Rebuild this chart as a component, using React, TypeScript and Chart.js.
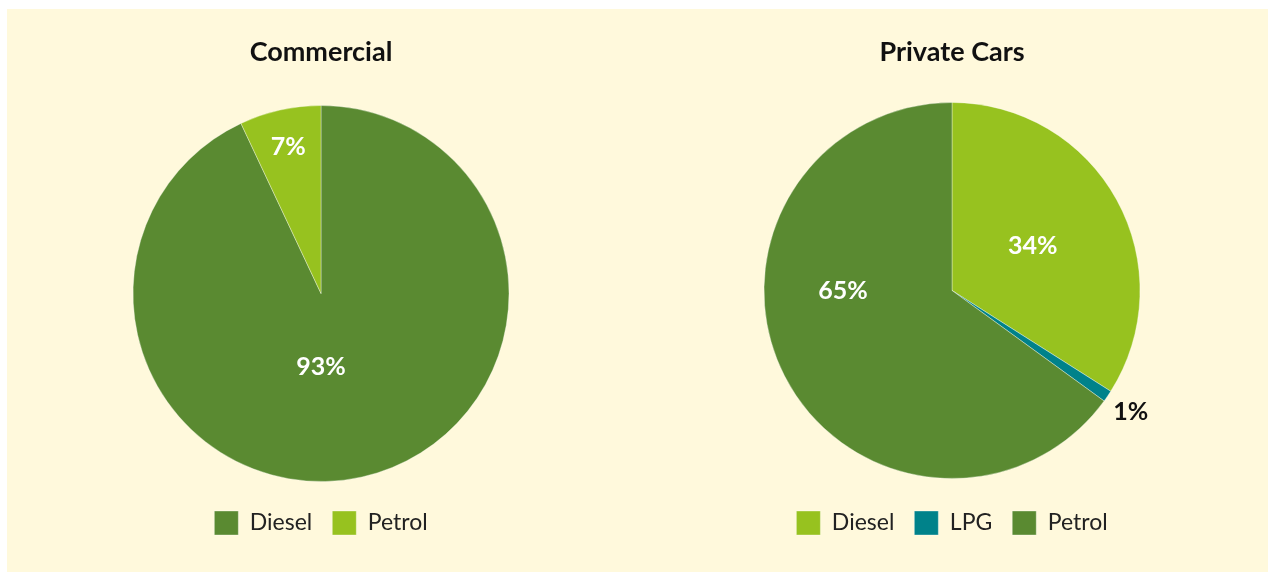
import React, { useEffect, useRef } from "react";
import { Chart, registerables } from "chart.js";

Chart.register(...registerables);

// ---- Data ----
const commercialLabels = ["Diesel", "Petrol"];
const commercialValues = [93, 7];

const privateLabels = ["Diesel", "LPG", "Petrol"];
const privateValues = [34, 1, 65];

// ---- Styles ----
const DARK = "#5a8a31";
const LIGHT = "#97c21f";
const TEAL = "#00828a";
const BG = "#fff9dc";
const FONT = "Lato, 'Open Sans', sans-serif";

const commercialColors = [DARK, LIGHT];
const privateColors = [LIGHT, TEAL, DARK];

const pctPlugin = {
  id: "pctLabels",
  afterDatasetsDraw(chart: any, _args: any, opts: any) {
    const meta = chart.getDatasetMeta(0);
    const values: number[] = chart.data.datasets[0].data;
    const total = values.reduce((a, b) => a + b, 0);
    const ctx = chart.ctx;
    ctx.save();
    ctx.font = `bold ${opts.size || 23}px ${FONT}`;
    ctx.textAlign = "center";
    ctx.textBaseline = "middle";
    meta.data.forEach((arc: any, i: number) => {
      const p = arc.getProps(["x", "y", "startAngle", "endAngle", "outerRadius"], true);
      let mid = (p.startAngle + p.endAngle) / 2;
      if (values[i] / total > 0.5) mid = Math.round(mid / (Math.PI / 2)) * (Math.PI / 2);
      const r = p.outerRadius * (opts.radii?.[i] ?? 0.6);
      ctx.fillStyle = opts.colors?.[i] ?? "#fff";
      ctx.fillText(`${values[i]}%`, p.x + Math.cos(mid) * r, p.y + Math.sin(mid) * r);
    });
    ctx.restore();
  },
};

type PieProps = {
  title: string;
  labels: string[];
  values: number[];
  colors: string[];
  radii: number[];
  labelColors: string[];
  titleBottom: number;
  left: number;
  width: number;
};

function PieChart(props: PieProps) {
  const ref = useRef<HTMLCanvasElement | null>(null);
  useEffect(() => {
    if (!ref.current) return;
    const chart = new Chart(ref.current, {
      type: "pie",
      data: {
        labels: props.labels,
        datasets: [
          {
            data: props.values,
            backgroundColor: props.colors,
            borderColor: "rgba(255,255,255,0.35)",
            borderWidth: 1,
            hoverOffset: 0,
          },
        ],
      },
      options: {
        responsive: false,
        animation: false,
        radius: 188,
        layout: { padding: { bottom: 26 } },
        plugins: {
          title: {
            display: true,
            text: props.title,
            color: "#111",
            font: { family: FONT, size: 27, weight: "bold" },
            padding: { top: 26.8, bottom: props.titleBottom },
          },
          legend: {
            position: "bottom",
            labels: {
              boxWidth: 24,
              boxHeight: 24,
              color: "#222",
              font: { family: FONT, size: 23 },
              padding: 20,
            },
          },
          tooltip: { enabled: false },
          pctLabels: { radii: props.radii, colors: props.labelColors, size: 25 },
        } as any,
      },
      plugins: [pctPlugin],
    } as any);
    return () => chart.destroy();
  }, []);
  return (
    <canvas
      ref={ref}
      width={props.width}
      height={562}
      style={{ position: "absolute", left: props.left, top: 0, width: props.width, height: 562 }}
    />
  );
}

export default function App() {
  return (
    <div
      style={{
        position: "absolute",
        left: 7,
        top: 9,
        width: 1261,
        height: 563,
        background: BG,
        overflow: "hidden",
      }}
    >
      <PieChart
        title="Commercial"
        labels={commercialLabels}
        values={commercialValues}
        colors={commercialColors}
        radii={[0.39, 0.8]}
        labelColors={["#fff", "#fff"]}
        titleBottom={27.8}
        left={0}
        width={628}
      />
      <PieChart
        title="Private Cars"
        labels={privateLabels}
        values={privateValues}
        colors={privateColors}
        radii={[0.49, 1.15, 0.58]}
        labelColors={["#fff", "#111", "#fff"]}
        titleBottom={21.8}
        left={629}
        width={632}
      />
    </div>
  );
}
